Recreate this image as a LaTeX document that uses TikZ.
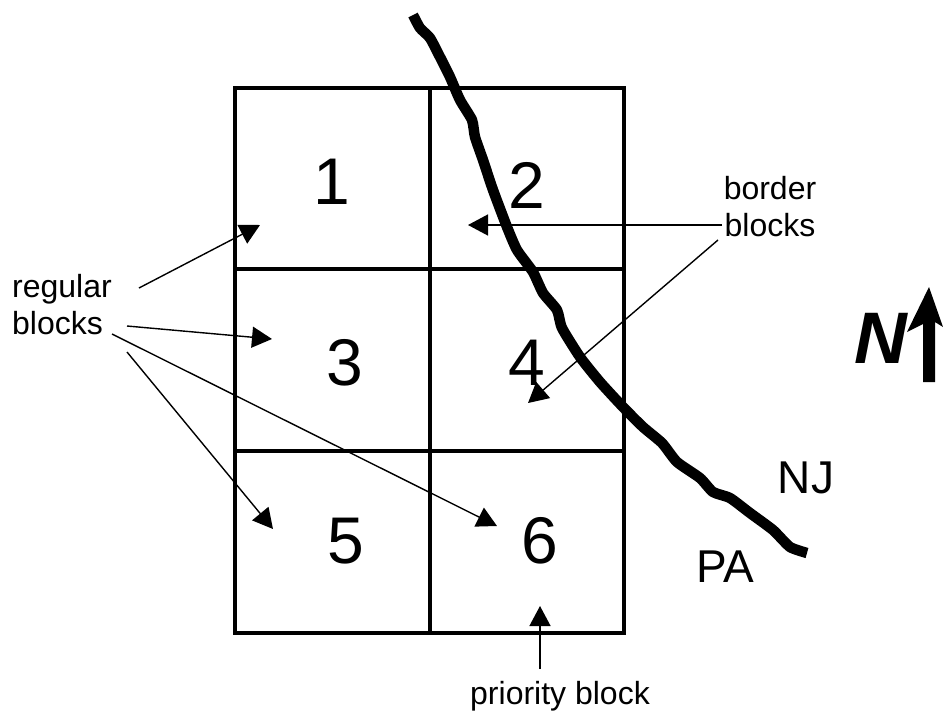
\documentclass[tikz,border=0pt]{standalone}
\usepackage{fontspec}
\setmainfont{Liberation Sans}
\usetikzlibrary{arrows.meta}
\tikzset{
  grid line/.style={line width=4.6pt,line cap=rect},
  river/.style={line width=10.5pt,line join=round},
  pointer/.style={line width=1.4pt,-{Triangle[length=20pt,width=21pt]}},
  digit/.style={font=\fontsize{66}{66}\selectfont,inner sep=0pt},
  state/.style={font=\fontsize{46}{46}\selectfont,inner sep=0pt},
  lab/.style={font=\fontsize{32}{37}\selectfont,inner sep=0pt,align=left},
  labc/.style={font=\fontsize{32}{37}\selectfont,inner sep=0pt,align=center}
}
\begin{document}
\begin{tikzpicture}[x=1pt,y=-1pt]
\useasboundingbox (0,0) rectangle (943,713);
% grid
\draw[grid line] (235,88) rectangle (624,633);
\draw[grid line] (430,88) -- (430,633);
\draw[grid line] (235,269) -- (624,269);
\draw[grid line] (235,451) -- (624,451);
% digits
\node[digit] (d1) at (332,182) {1};
\node[digit] (d2) at (527,185) {2};
\node[digit] (d3) at (345,363) {3};
\node[digit] (d4) at (527,363) {4};
\node[digit] (d5) at (346,541) {5};
\node[digit] (d6) at (540,541) {6};
% river
\draw[river] plot[smooth,tension=0.35] coordinates {(413,15) (420,28) (430,38) (440,57) (450,77) (460,100) (472,120) (475,137) (483,160) (493,190) (507,227) (517,250) (533,272) (543,293) (557,310) (562,328) (580,357) (600,382) (623,407) (643,427) (662,443) (677,462) (700,478) (713,492) (730,498) (750,513) (773,530) (790,547) (807,553)};
% labels
\node[lab,anchor=north west] (reg) at (12,274) {regular\\blocks};
\node[labc,anchor=north] (bor) at (770,176) {border\\blocks};
\node[labc,anchor=north] (pri) at (560,681) {priority block};
\node[state] (nj) at (806,478) {NJ};
\node[state] (pa) at (725,567) {PA};
\node[inner sep=0pt,font=\fontsize{73}{73}\selectfont\bfseries\itshape] (n) at (881,338) {N};
% pointer ends
\coordinate (r1a) at (139,288); \coordinate (r1b) at (260,225);
\coordinate (r3a) at (127,326); \coordinate (r3b) at (272,339);
\coordinate (r6a) at (112,334); \coordinate (r6b) at (497,526);
\coordinate (r5a) at (127,352); \coordinate (r5b) at (273,529);
\coordinate (b2a) at (722,225); \coordinate (b2b) at (468,225);
\coordinate (b4a) at (718,240); \coordinate (b4b) at (528,403);
\coordinate (pa1) at (540,669); \coordinate (pb1) at (540,606);
\draw[pointer] (r1a) -- (r1b);
\draw[pointer] (r3a) -- (r3b);
\draw[pointer] (r6a) -- (r6b);
\draw[pointer] (r5a) -- (r5b);
\draw[pointer] (b2a) -- (b2b);
\draw[pointer] (b4a) -- (b4b);
\draw[pointer] (pa1) -- (pb1);
% north arrow
\fill (929,287) -- (943,327) -- (935,322) -- (935,382) -- (923,382) -- (923,324) -- (907,332) -- cycle;
\end{tikzpicture}
\end{document}
